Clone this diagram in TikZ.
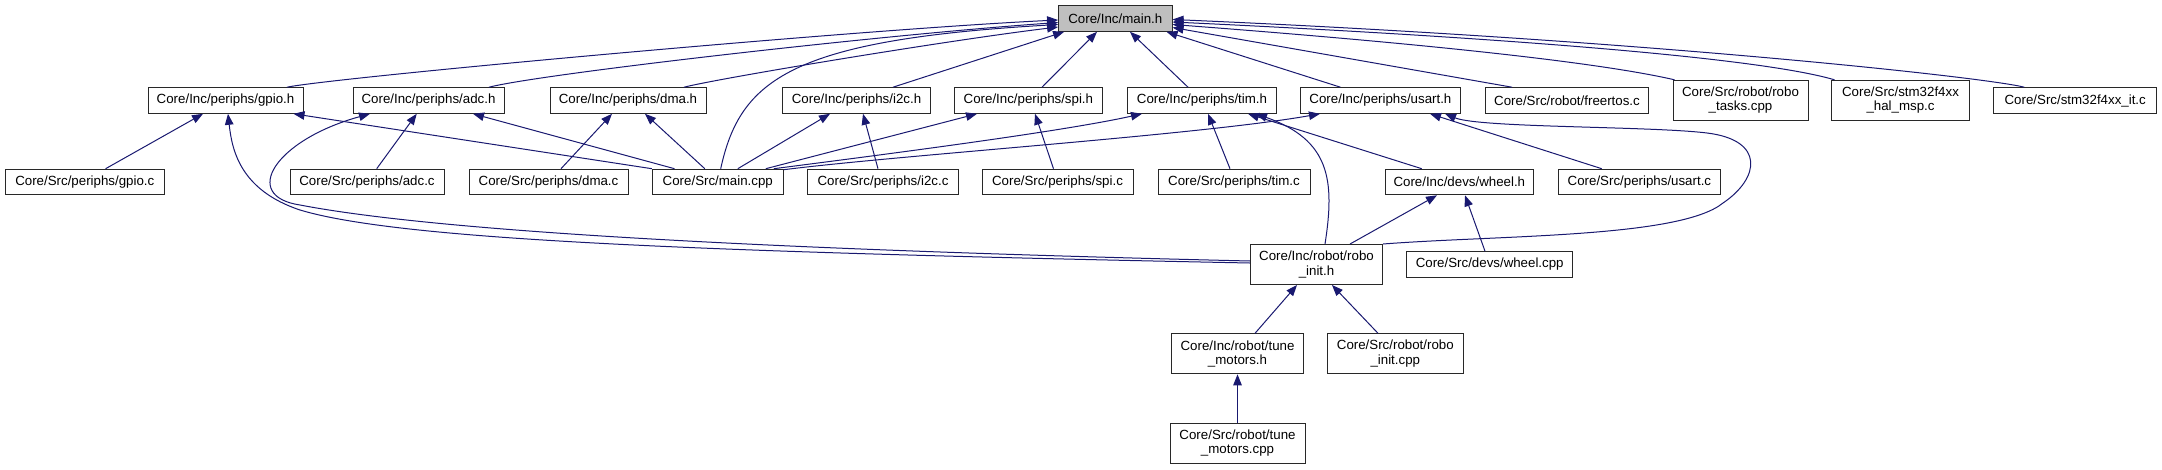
\documentclass[tikz,border=0pt]{standalone}
\usepackage{fontspec}
\setmainfont{Liberation Sans}
\usetikzlibrary{arrows.meta,calc}
\definecolor{edgecol}{RGB}{25,25,112}
\definecolor{boxline}{RGB}{40,40,40}
\definecolor{mainfill}{RGB}{191,191,191}
\begin{document}
\begin{tikzpicture}[x=1pt,y=-1pt,
  box/.style={draw=boxline,line width=1pt,fill=white,inner sep=0pt,minimum height=25.6pt,align=center,font=\fontsize{13.3}{14.5}\selectfont},
  tall/.style={minimum height=40pt},
  edge/.style={draw=edgecol,line width=1pt,-{Triangle[length=11pt,width=8.5pt]}}]
\useasboundingbox (0,0) rectangle (2162,469);
% row 1
\node[box,fill=mainfill,minimum width=113.4pt] (mainh) at (1115.3,18.5) {Core/Inc/main.h};
% row 2
\node[box,minimum width=155pt] (gpioh) at (225.5,100.5) {Core/Inc/periphs/gpio.h};
\node[box,minimum width=151pt] (adch) at (428.5,100.5) {Core/Inc/periphs/adc.h};
\node[box,minimum width=156pt] (dmah) at (628,100.5) {Core/Inc/periphs/dma.h};
\node[box,minimum width=148pt] (i2ch) at (856.5,100.5) {Core/Inc/periphs/i2c.h};
\node[box,minimum width=148.7pt] (spih) at (1028.4,100.5) {Core/Inc/periphs/spi.h};
\node[box,minimum width=149.7pt] (timh) at (1202,100.5) {Core/Inc/periphs/tim.h};
\node[box,minimum width=160.7pt] (usarth) at (1380.4,100.5) {Core/Inc/periphs/usart.h};
\node[box,minimum width=163.3pt] (freertos) at (1567,100.5) {Core/Src/robot/freertos.c};
\node[box,tall,minimum width=135pt] (robotasks) at (1740.5,100.3) {Core/Src/robot/robo\\\_tasks.cpp};
\node[box,tall,minimum width=138pt] (halmsp) at (1900.5,100.3) {Core/Src/stm32f4xx\\\_hal\_msp.c};
\node[box,minimum width=162.8pt] (itc) at (2075.2,100.5) {Core/Src/stm32f4xx\_it.c};
% row 3
\node[box,minimum width=158.5pt] (gpioc) at (84.8,182) {Core/Src/periphs/gpio.c};
\node[box,minimum width=154pt] (adcc) at (367,182) {Core/Src/periphs/adc.c};
\node[box,minimum width=159pt] (dmac) at (548.5,182) {Core/Src/periphs/dma.c};
\node[box,minimum width=131pt] (maincpp) at (717.8,182) {Core/Src/main.cpp};
\node[box,minimum width=150.5pt] (i2cc) at (883,182) {Core/Src/periphs/i2c.c};
\node[box,minimum width=151pt] (spic) at (1057.5,182) {Core/Src/periphs/spi.c};
\node[box,minimum width=152pt] (timc) at (1234,182) {Core/Src/periphs/tim.c};
\node[box,minimum width=148.6pt] (wheelh) at (1459.3,182) {Core/Inc/devs/wheel.h};
\node[box,minimum width=162.7pt] (usartc) at (1639.4,182) {Core/Src/periphs/usart.c};
% row 4
\node[box,tall,minimum width=132pt] (roboinith) at (1316.5,264.5) {Core/Inc/robot/robo\\\_init.h};
\node[box,minimum width=165.7pt] (wheelcpp) at (1489.7,264.5) {Core/Src/devs/wheel.cpp};
% row 5
\node[box,tall,minimum width=132pt] (tuneh) at (1237.5,353.8) {Core/Inc/robot/tune\\\_motors.h};
\node[box,tall,minimum width=135.4pt] (roboinitcpp) at (1395.3,353.8) {Core/Src/robot/robo\\\_init.cpp};
% row 6
\node[box,tall,minimum width=135pt] (tunecpp) at (1237.5,443) {Core/Src/robot/tune\\\_motors.cpp};

% edges into main.h
\draw[edge] ($(gpioh.north)+(61.5,0)$) .. controls (330,78) and (850,30) .. ($(mainh.west)+(0,1.5)$);
\draw[edge] ($(adch.north)+(60.5,0)$) .. controls (540,74) and (880,35) .. ($(mainh.west)+(0,4)$);
\draw[edge] ($(dmah.north)+(56,0)$) .. controls (720,78) and (950,40) .. ($(mainh.west)+(0,8.5)$);
\draw[edge] ($(maincpp.north)+(2.9,0)$) .. controls (740,80) and (790,40) .. ($(mainh.west)+(0,6)$);
\draw[edge] ($(i2ch.north)+(36.5,0)$) -- ($(mainh.south west)+(6,0)$);
\draw[edge] ($(spih.north)+(13.6,0)$) -- ($(mainh.south)+(-18.3,0)$);
\draw[edge] ($(timh.north)+(-14,0)$) -- ($(mainh.south)+(14.7,0)$);
\draw[edge] ($(usarth.north)+(-40,0)$) -- ($(mainh.south east)+(-6,0)$);
\draw[edge] ($(freertos.north)+(-55,0)$) -- ($(mainh.east)+(0,9)$);
\draw[edge] ($(robotasks.north west)+(2,0)$) .. controls (1580,58) and (1350,38) .. ($(mainh.east)+(0,6)$);
\draw[edge] ($(halmsp.north west)+(3.5,0)$) .. controls (1750,55) and (1450,35) .. ($(mainh.east)+(0,3.5)$);
\draw[edge] ($(itc.north)+(-51,0)$) .. controls (1990,78) and (1650,40) .. ($(mainh.east)+(0,1)$);

% edges into gpio.h
\draw[edge] ($(gpioc.north)+(20.8,0)$) -- ($(gpioh.south)+(-22.5,0)$);
\draw[edge] (maincpp.north west) -- ($(gpioh.south east)+(-10,0)$);
\draw[edge] ($(roboinith.west)+(0,-1.5)$) .. controls (700,252) and (400,240) .. (300,210)
  .. controls (240,190) and (232,150) .. ($(gpioh.south)+(2.5,0)$);
% edges into adc.h
\draw[edge] ($(adcc.north)+(9.7,0)$) -- ($(adch.south)+(-11.8,0)$);
\draw[edge] ($(maincpp.north west)+(22.7,0)$) -- ($(adch.south)+(44.5,0)$);
\draw[edge] ($(roboinith.west)+(0,-3.5)$) .. controls (700,248) and (420,228) .. (300,205)
  .. controls (240,196) and (275,140) .. ($(adch.south)+(-58.5,0)$);
% edges into dma.h
\draw[edge] ($(dmac.north)+(12.5,0)$) -- ($(dmah.south)+(-16,0)$);
\draw[edge] ($(maincpp.north)+(-13,0)$) -- ($(dmah.south)+(17,0)$);
% edges into i2c.h
\draw[edge] ($(maincpp.north)+(20,0)$) -- ($(i2ch.south)+(-26.5,0)$);
\draw[edge] ($(i2cc.north)+(-5,0)$) -- ($(i2ch.south)+(6.5,0)$);
% edges into spi.h
\draw[edge] ($(maincpp.north)+(48,0)$) -- ($(spih.south)+(-51.4,0)$);
\draw[edge] ($(spic.north)+(-4,0)$) -- ($(spih.south)+(6.6,0)$);
% edges into tim.h
\draw[edge] ($(maincpp.north east)+(-10,0)$) .. controls (880,155) and (1060,132) .. ($(timh.south)+(-60,0)$);
\draw[edge] ($(timc.north)+(-4,0)$) -- ($(timh.south)+(6,0)$);
\draw[edge] ($(wheelh.north)+(-37.6,0)$) -- ($(timh.south)+(46,0)$);
\draw[edge] ($(roboinith.north)+(8.5,0)$) .. controls (1335,180) and (1330,140) .. ($(timh.south)+(54,0)$);
% edges into usart.h
\draw[edge] ($(maincpp.north east)+(0,1)$) .. controls (900,155) and (1200,135) .. ($(usarth.south)+(-60.4,0)$);
\draw[edge] ($(usartc.north)+(-37.7,0)$) -- ($(usarth.south)+(49.6,0)$);
\draw[edge] (roboinith.north east) .. controls (1500,235) and (1680,238) .. (1723,203)
  .. controls (1760,178) and (1765,140) .. (1707,133)
  .. controls (1650,126) and (1480,128) .. ($(usarth.south)+(64.6,0)$);
% edges into wheel.h
\draw[edge] ($(roboinith.north)+(33.5,0)$) -- ($(wheelh.south)+(-22.3,0)$);
\draw[edge] ($(wheelcpp.north)+(-4.7,0)$) -- ($(wheelh.south)+(5.7,0)$);
% edges into robo_init.h
\draw[edge] ($(tuneh.north)+(17.5,0)$) -- ($(roboinith.south)+(-19.5,0)$);
\draw[edge] ($(roboinitcpp.north)+(-17.3,0)$) -- ($(roboinith.south)+(15.5,0)$);
% edge into tune_motors.h
\draw[edge] (tunecpp.north) -- (tuneh.south);
\end{tikzpicture}
\end{document}
